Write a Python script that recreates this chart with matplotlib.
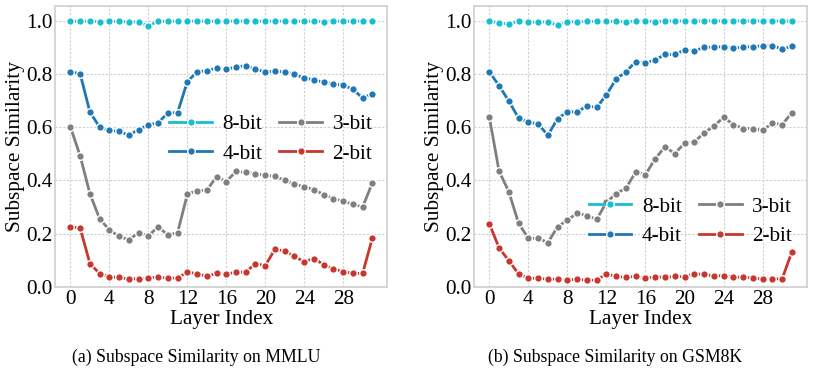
import matplotlib
matplotlib.use("Agg")
import matplotlib.pyplot as plt
import numpy as np

layers = np.arange(32)
bit_labels = ["8-bit", "4-bit", "3-bit", "2-bit"]
bit_colors = ["#17becf", "#1f77b4", "#7f7f7f", "#c8372d"]

# (a) MMLU
mmlu_8bit = [0.998, 0.998, 0.998, 0.996, 0.997, 0.997, 0.996, 0.995, 0.980, 0.998,
             0.998, 0.998, 0.998, 0.998, 0.998, 0.998, 0.998, 0.998, 0.998, 0.998,
             0.998, 0.998, 0.998, 0.998, 0.998, 0.998, 0.996, 0.998, 0.998, 0.998,
             0.998, 0.997]
mmlu_4bit = [0.809, 0.800, 0.657, 0.600, 0.588, 0.584, 0.570, 0.591, 0.608, 0.617,
             0.653, 0.655, 0.771, 0.808, 0.812, 0.822, 0.817, 0.826, 0.831, 0.818,
             0.807, 0.811, 0.807, 0.800, 0.783, 0.779, 0.768, 0.763, 0.757, 0.743,
             0.709, 0.726]
mmlu_3bit = [0.601, 0.492, 0.350, 0.256, 0.214, 0.190, 0.177, 0.204, 0.192, 0.226,
             0.195, 0.204, 0.348, 0.362, 0.363, 0.414, 0.396, 0.434, 0.430, 0.426,
             0.419, 0.416, 0.400, 0.387, 0.376, 0.366, 0.347, 0.332, 0.322, 0.311,
             0.300, 0.391]
mmlu_2bit = [0.227, 0.221, 0.088, 0.050, 0.038, 0.036, 0.030, 0.031, 0.033, 0.038,
             0.033, 0.034, 0.056, 0.050, 0.040, 0.051, 0.048, 0.056, 0.056, 0.088,
             0.080, 0.142, 0.135, 0.115, 0.095, 0.107, 0.084, 0.068, 0.058, 0.051,
             0.051, 0.184]

# (b) GSM8K
gsm_8bit = [0.999, 0.991, 0.987, 0.997, 0.994, 0.995, 0.995, 0.982, 0.996, 0.995,
            0.997, 0.997, 0.997, 0.998, 0.996, 0.998, 0.999, 0.996, 0.999, 0.999,
            0.999, 0.998, 0.999, 0.999, 0.999, 0.998, 0.999, 0.999, 0.999, 0.999,
            0.998, 0.999]
gsm_4bit = [0.808, 0.756, 0.698, 0.634, 0.619, 0.612, 0.570, 0.632, 0.658, 0.657,
            0.680, 0.674, 0.722, 0.781, 0.808, 0.846, 0.841, 0.853, 0.873, 0.873,
            0.890, 0.886, 0.900, 0.901, 0.902, 0.896, 0.901, 0.902, 0.906, 0.906,
            0.893, 0.904]
gsm_3bit = [0.639, 0.435, 0.358, 0.239, 0.183, 0.183, 0.167, 0.226, 0.251, 0.277,
            0.268, 0.254, 0.318, 0.351, 0.371, 0.432, 0.422, 0.482, 0.526, 0.501,
            0.540, 0.545, 0.578, 0.604, 0.637, 0.610, 0.595, 0.595, 0.588, 0.615,
            0.610, 0.655]
gsm_2bit = [0.238, 0.147, 0.099, 0.049, 0.033, 0.033, 0.029, 0.030, 0.026, 0.029,
            0.025, 0.026, 0.049, 0.040, 0.036, 0.040, 0.033, 0.039, 0.036, 0.040,
            0.038, 0.049, 0.048, 0.041, 0.043, 0.038, 0.036, 0.035, 0.029, 0.030,
            0.031, 0.133]

captions = ["(a) Subspace Similarity on MMLU", "(b) Subspace Similarity on GSM8K"]

plt.rcParams["font.family"] = ["Liberation Serif", "DejaVu Serif"]
plt.rcParams["font.size"] = 15.3

fig = plt.figure(figsize=(8.14, 3.7), dpi=100)
ax1 = fig.add_axes([0.0680, 0.2243, 0.4080, 0.7595])
ax2 = fig.add_axes([0.5825, 0.2243, 0.4090, 0.7595])

panels = [
    (ax1, [mmlu_8bit, mmlu_4bit, mmlu_3bit, mmlu_2bit], 0.527),
    (ax2, [gsm_8bit, gsm_4bit, gsm_3bit, gsm_2bit], 0.233),
]

for ax, series, leg_y in panels:
    for vals, lab, col in zip(series, bit_labels, bit_colors):
        ax.plot(layers, vals, color=col, label=lab, linewidth=2.0,
                marker="o", markersize=5.5, markeredgecolor="white",
                markeredgewidth=1.0)
    ax.set_xlim(-1.55, 32.55)
    ax.set_ylim(0, 1.055)
    ax.set_xticks(np.arange(0, 29, 4))
    ax.set_yticks([0.0, 0.2, 0.4, 0.6, 0.8, 1.0])
    ax.set_yticklabels(["0.0", "0.2", "0.4", "0.6", "0.8", "1.0"])
    ax.tick_params(length=0, pad=2)
    ax.grid(True, color="#cfcfcf", linestyle=(0, (2, 1.5)), linewidth=0.8)
    ax.set_axisbelow(True)
    for sp in ax.spines.values():
        sp.set_color("#d0d0d0")
        sp.set_linewidth(1.25)
    ax.set_xlabel("Layer Index", labelpad=1)
    ax.set_ylabel("Subspace Similarity", labelpad=1)
    ax.legend(ncol=2, loc="center right", bbox_to_anchor=(1.0, leg_y),
              frameon=False, handlelength=2.0, handletextpad=0.5,
              columnspacing=0.8, labelspacing=0.45, borderaxespad=0.3)

fig.text(196 / 814, 1 - 357 / 370, captions[0], ha="center", va="center", fontsize=12.8)
fig.text(615 / 814, 1 - 357 / 370, captions[1], ha="center", va="center", fontsize=12.8)

fig.savefig("out.png", dpi=100)
